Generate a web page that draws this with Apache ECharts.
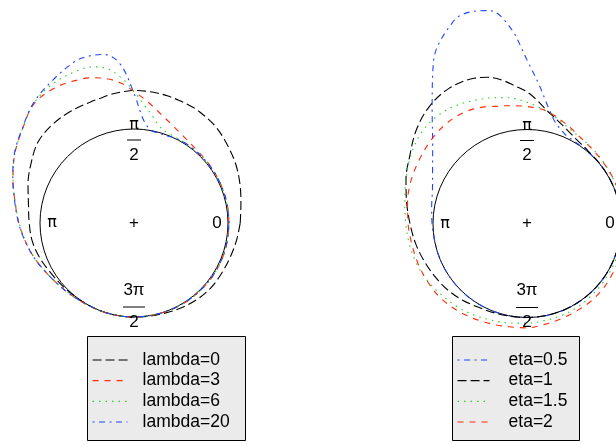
<!DOCTYPE html>
<html>
<head>
<meta charset="utf-8">
<script src="https://cdn.jsdelivr.net/npm/echarts@6/dist/echarts.min.js"></script>
<style>html,body{margin:0;padding:0;background:#fff}#c{width:616px;height:445px}</style>
</head>
<body>
<div id="c"></div>
<script>
// angles (degrees) at which the densities are read
const angles = [0,10,20,30,40,50,60,65,70,75,80,85,90,95,100,105,110,120,130,140,150,160,170,180,190,200,210,220,230,240,250,260,270,280,290,300,310,320,330,340,350,360];

// left panel: radius = 1 + density
const lambda0 = [1.13,1.155,1.20,1.25,1.295,1.345,1.375,1.383,1.39,1.398,1.405,1.408,1.41,1.40,1.39,1.375,1.368,1.366,1.36,1.335,1.265,1.20,1.14,1.115,1.10,1.07,1.035,1.015,1.003,1.0,1.0,1.0,1.0,1.005,1.015,1.035,1.055,1.07,1.075,1.085,1.105,1.13];
const lambda3 = [1.01,1.012,1.01,1.012,1.015,1.025,1.06,1.09,1.13,1.18,1.245,1.32,1.40,1.49,1.555,1.60,1.63,1.665,1.655,1.55,1.465,1.37,1.285,1.225,1.17,1.12,1.07,1.035,1.015,1.005,1.0,1.0,1.0,1.0,1.002,1.005,1.005,1.008,1.01,1.012,1.01,1.01];
const lambda6 = [1.012,1.01,1.01,1.01,1.012,1.01,1.01,1.015,1.025,1.06,1.15,1.26,1.40,1.55,1.67,1.72,1.73,1.715,1.66,1.55,1.465,1.37,1.283,1.222,1.168,1.118,1.07,1.035,1.015,1.005,1.0,1.0,1.0,1.0,1.002,1.005,1.005,1.008,1.01,1.012,1.012,1.012];
const lambda20 = [1.01,1.01,1.01,1.01,1.01,1.01,1.01,1.0,0.99,0.992,1.005,1.11,1.38,1.70,1.82,1.84,1.83,1.745,1.665,1.555,1.47,1.372,1.288,1.228,1.172,1.12,1.07,1.036,1.015,1.0,1.0,1.0,1.0,1.0,1.0,1.003,1.005,1.008,1.01,1.01,1.01,1.01];

// right panel
const eta05 = [1.0,1.0,1.0,1.0,1.0,1.0,1.01,1.02,1.06,1.13,1.27,1.48,1.74,2.10,2.30,2.33,2.29,1.99,1.57,1.31,1.16,1.07,1.03,1.01,1.0,1.0,1.0,1.0,1.0,1.0,1.0,1.0,1.0,1.0,1.0,1.0,1.0,1.0,1.0,1.0,1.0,1.0];
const eta1 = [1.0,1.0,1.0,1.0,1.002,1.01,1.04,1.07,1.11,1.16,1.22,1.31,1.40,1.47,1.55,1.61,1.645,1.66,1.62,1.54,1.44,1.37,1.30,1.245,1.205,1.165,1.13,1.10,1.065,1.03,1.012,1.003,1.0,1.0,1.0,1.0,1.0,1.0,1.0,1.0,1.0,1.0];
const eta15 = [1.02,1.02,1.025,1.035,1.045,1.06,1.08,1.10,1.13,1.17,1.21,1.25,1.29,1.33,1.36,1.385,1.41,1.46,1.49,1.48,1.43,1.37,1.32,1.29,1.27,1.25,1.22,1.185,1.155,1.125,1.095,1.075,1.06,1.05,1.045,1.04,1.03,1.025,1.02,1.02,1.02,1.02];
const eta2 = [1.04,1.035,1.035,1.035,1.04,1.055,1.085,1.115,1.145,1.18,1.215,1.232,1.245,1.258,1.272,1.29,1.32,1.36,1.365,1.35,1.33,1.315,1.29,1.265,1.245,1.235,1.225,1.215,1.19,1.16,1.135,1.115,1.11,1.09,1.075,1.07,1.07,1.065,1.055,1.05,1.045,1.04];

const leftNames = ['lambda=0','lambda=3','lambda=6','lambda=20'];
const rightNames = ['eta=0.5','eta=1','eta=1.5','eta=2'];

const RED = '#FF2A0A', GREEN = '#22D022', BLUE = '#1F45FF', BLACK = '#000000';
const LONGDASH = [9,4], DASHED = [6,6], DOTTED = [1.5,5], DOTDASH = [2,4.5,6,4.5];

const UNIT = 94;        // pixels per unit radius
const RMAX = 2.5;       // radius axis max of the curve polars

function mk(name, vals, polarIndex, color, dash) {
  return {
    name: name, type: 'line', coordinateSystem: 'polar', polarIndex: polarIndex,
    data: angles.map((a, i) => [vals[i], a]),
    symbol: 'none', smooth: 0.35, clip: false, silent: true,
    lineStyle: { color: color, width: 1.1, type: dash },
    itemStyle: { color: color, opacity: 0 },
    z: 3
  };
}

const C1 = [134, 223], C2 = [527, 223.5];
const chart = echarts.init(document.getElementById('c'), null, { renderer: 'canvas' });

function angleAxis(i, showLine) {
  return { polarIndex: i, type: 'value', min: 0, max: 360, startAngle: 0, clockwise: false,
    axisLine: { show: showLine, lineStyle: { color: '#000', width: 1 } },
    axisTick: { show: false }, axisLabel: { show: false }, splitLine: { show: false } };
}
function radiusAxis(i, max) {
  return { polarIndex: i, type: 'value', min: 0, max: max,
    axisLine: { show: false }, axisTick: { show: false }, axisLabel: { show: false }, splitLine: { show: false } };
}

const NUMFONT = '17px "Liberation Sans", Arial, sans-serif';
const PIFONT = '16px "DejaVu Sans", sans-serif';
function txt(t, x, y, font) {
  return { type: 'text', z: 5, style: { text: t, x: x, y: y, font: font, fill: '#000', align: 'center', verticalAlign: 'middle' } };
}
function bar(cx, y, w) {
  return { type: 'line', z: 5, shape: { x1: cx - w / 2, y1: y, x2: cx + w / 2, y2: y }, style: { stroke: '#000', lineWidth: 1 } };
}
function labels(C) {
  const cx = C[0], cy = C[1];
  return [
    txt('+', cx, cy, NUMFONT),
    txt('0', cx + 83, cy, NUMFONT),
    txt('π', cx - 82, cy, PIFONT),
    txt('π', cx, cy - 98, PIFONT),
    bar(cx, cy - 83, 14),
    txt('2', cx, cy - 68, NUMFONT),
    txt('3π', cx, cy + 67, NUMFONT),
    bar(cx, cy + 84, 22),
    txt('2', cx, cy + 99, NUMFONT)
  ];
}

const legendCommon = {
  orient: 'vertical', itemWidth: 35, itemHeight: 14, itemGap: 0, height: 95,
  padding: 0, backgroundColor: 'transparent', selectedMode: false,
  itemStyle: { opacity: 0 },
  lineStyle: { width: 1.1 },
  textStyle: { fontSize: 17.5, lineHeight: 20.7, fontFamily: '"Liberation Sans", Arial, sans-serif', color: '#000', padding: [0, 0, 0, 10] }
};

chart.setOption({
  animation: false,
  backgroundColor: '#ffffff',
  polar: [
    { center: C1, radius: UNIT },           // unit circle, left
    { center: C2, radius: UNIT },           // unit circle, right
    { center: C1, radius: UNIT * RMAX },    // curves, left
    { center: C2, radius: UNIT * RMAX }     // curves, right
  ],
  angleAxis: [angleAxis(0, true), angleAxis(1, true), angleAxis(2, false), angleAxis(3, false)],
  radiusAxis: [radiusAxis(0, 1), radiusAxis(1, 1), radiusAxis(2, RMAX), radiusAxis(3, RMAX)],
  legend: [
    Object.assign({}, legendCommon, { data: leftNames, left: 92, top: 349.6 }),
    Object.assign({}, legendCommon, { data: rightNames, left: 457, top: 349.6, itemWidth: 32, textStyle: Object.assign({}, legendCommon.textStyle, { padding: [0, 0, 0, 14] }) })
  ],
  graphic: [
    { type: 'rect', z: 0, shape: { x: 87.5, y: 336.5, width: 158, height: 104 }, style: { fill: '#EBEBEB', stroke: '#000', lineWidth: 1 } },
    { type: 'rect', z: 0, shape: { x: 452.5, y: 336.5, width: 127, height: 104 }, style: { fill: '#EBEBEB', stroke: '#000', lineWidth: 1 } }
  ].concat(labels(C1), labels(C2)),
  series: [
    mk(leftNames[0], lambda0, 2, BLACK, LONGDASH),
    mk(leftNames[1], lambda3, 2, RED, DASHED),
    mk(leftNames[2], lambda6, 2, GREEN, DOTTED),
    mk(leftNames[3], lambda20, 2, BLUE, DOTDASH),
    mk(rightNames[0], eta05, 3, BLUE, DOTDASH),
    mk(rightNames[1], eta1, 3, BLACK, LONGDASH),
    mk(rightNames[2], eta15, 3, GREEN, DOTTED),
    mk(rightNames[3], eta2, 3, RED, DASHED)
  ]
});
</script>
</body>
</html>
